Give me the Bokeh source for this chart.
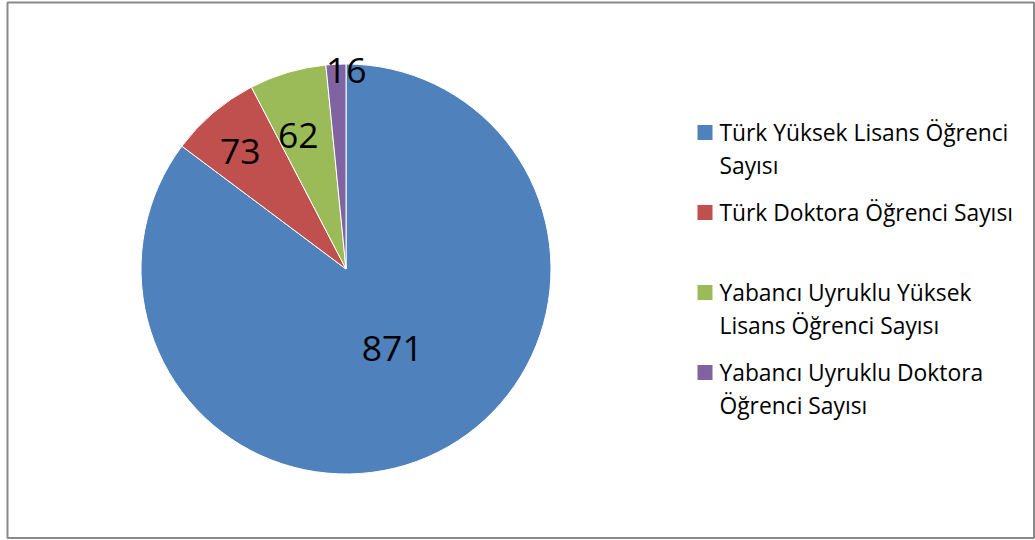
import math
from bokeh.plotting import figure
from bokeh.models import Range1d, ColumnDataSource
from bokeh.core.properties import value
from bokeh.embed import file_html
from bokeh.resources import INLINE

# ---- data ----
categories = [
    "Türk Yüksek Lisans Öğrenci\nSayısı",
    "Türk Doktora Öğrenci Sayısı",
    "Yabancı Uyruklu Yüksek\nLisans Öğrenci Sayısı",
    "Yabancı Uyruklu Doktora\nÖğrenci Sayısı",
]
counts = [871, 73, 62, 16]
colors = ["#4F81BD", "#C0504D", "#9BBB59", "#8064A2"]

# ---- layout (pixels) ----
W, H = 1035, 540
cx, cy_screen, R = 345.5, 268.5, 205
cy = H - cy_screen
# label placement: (radius fraction, angle offset in degrees)
label_place = [(0.45, 3.5), (0.77, 1.7), (0.69, 3.2), (0.97, -2.9)]

p = figure(width=W, height=H, x_range=Range1d(0, W), y_range=Range1d(0, H),
           output_backend="svg", toolbar_location=None, min_border=0,
           x_axis_location=None, y_axis_location=None)
p.grid.visible = False
p.outline_line_color = None
p.background_fill_color = "white"
p.border_fill_color = "white"

# chart border
p.quad(left=[7], right=[1033.5], top=[H - 2], bottom=[H - 537.5],
       fill_color=None, line_color="#898989", line_width=2)

total = sum(counts)
starts, ends, mids = [], [], []
cum = 0
for v in counts:
    a0 = math.pi / 2 - 2 * math.pi * cum / total
    cum += v
    a1 = math.pi / 2 - 2 * math.pi * cum / total
    starts.append(a0)
    ends.append(a1)
    mids.append((a0 + a1) / 2)

src = ColumnDataSource(dict(start=starts, end=ends, color=colors))
p.wedge(x=cx, y=cy, radius=R, start_angle="start", end_angle="end",
        direction="clock", fill_color="color", line_color="white",
        line_width=1, source=src)

# data labels
lx, ly, lt = [], [], []
for v, m, (rf, da) in zip(counts, mids, label_place):
    a = m + math.radians(da)
    lx.append(cx + rf * R * math.cos(a))
    ly.append(cy + rf * R * math.sin(a))
    lt.append(str(v))
p.text(x=lx, y=ly, text=lt, text_align="center", text_baseline="middle",
       text_font=value("Open Sans"), text_font_size="35.5px", text_color="black")

# legend
sq_x, txt_x, top0, step, line_h = 704.5, 719, 132, 80, 33
rx, ry, tx, ty, tt = [], [], [], [], []
for i, lab in enumerate(categories):
    yy = top0 + step * i
    rx.append(sq_x)
    ry.append(H - yy)
    for j, line in enumerate(lab.split("\n")):
        tx.append(txt_x)
        ty.append(H - (yy + line_h * j))
        tt.append(line)
p.rect(x=rx, y=ry, width=15, height=15, fill_color=colors, line_color=None)
p.text(x=tx, y=ty, text=tt, text_align="left", text_baseline="middle",
       text_font=value("Open Sans"), text_font_size="22.8px", text_color="black")

open("out.html", "w").write(file_html(p, INLINE))
